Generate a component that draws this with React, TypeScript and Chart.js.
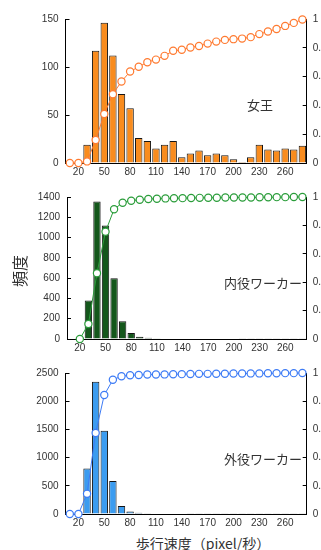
import React, { useEffect, useRef } from 'react';
import { Chart, registerables } from 'chart.js';
Chart.register(...registerables);

const categories = ['10','20','30','40','50','60','70','80','90','100','110','120','130','140','150','160','170','180','190','200','210','220','230','240','250','260','270','280'];

const queenCounts = [0,0,19,117,146,112,72,57,26,23,15,19,23,6,10,13,8,10,8,4,1,6,19,14,13,15,14,18];
const queenCdf = [0,0,0.011,0.16,0.34,0.478,0.566,0.635,0.668,0.70,0.718,0.744,0.779,0.786,0.802,0.813,0.829,0.843,0.855,0.86,0.864,0.874,0.895,0.913,0.931,0.952,0.973,0.997];

const innerCounts = [0,0,380,1355,1120,600,175,58,22,12,8,6,6,5,5,5,4,4,4,4,3,3,3,3,3,3,3,3];
const innerCdf = [null,0,0.105,0.463,0.756,0.914,0.96,0.974,0.981,0.986,0.988,0.99,0.991,0.992,0.993,0.994,0.995,0.995,0.996,0.996,0.997,0.997,0.998,0.998,0.999,0.999,1.0,1.0];

const outerCounts = [0,0,805,2345,1477,586,144,45,20,12,10,8,7,7,6,6,6,5,5,5,5,5,5,5,5,5,5,5];
const outerCdf = [0,0,0.143,0.575,0.844,0.952,0.977,0.984,0.986,0.989,0.989,0.99,0.991,0.992,0.993,0.994,0.994,0.995,0.995,0.996,0.996,0.997,0.997,0.998,0.998,0.999,0.999,1.0];

const queenTicks = { max: 150, step: 50 };
const innerTicks = { max: 1400, step: 200 };
const outerTicks = { max: 2500, step: 500 };
const cdfTicks = { max: 1, step: 0.2 };

const W = 321;
const tickFont = { family: '"Liberation Sans", Arial, sans-serif', size: 10 };
const tickColor = '#333';

type PanelProps = {
  counts: number[];
  cdf: (number | null)[];
  yMax: number;
  yStep: number;
  barColor: string;
  lineColor: string;
  top: number;
  height: number;
  padTop: number;
  xh: number;
  left: number;
  right: number;
};

function Panel(p: PanelProps) {
  const ref = useRef<HTMLCanvasElement>(null);
  useEffect(() => {
    if (!ref.current) return;
    const chart = new Chart(ref.current, {
      type: 'bar',
      data: {
        labels: categories,
        datasets: [
          {
            type: 'line',
            data: p.cdf as any,
            yAxisID: 'y1',
            borderColor: p.lineColor,
            borderWidth: 1,
            pointRadius: 3.6,
            pointBorderWidth: 1.2,
            pointBackgroundColor: '#ffffff',
            pointBorderColor: p.lineColor,
            fill: false,
            tension: 0,
            order: 0,
            clip: false as any,
          } as any,
          {
            type: 'bar',
            data: p.counts,
            yAxisID: 'y',
            backgroundColor: p.barColor,
            borderColor: '#151515',
            borderWidth: 1,
            barPercentage: 0.86,
            categoryPercentage: 1,
            order: 1,
          } as any,
        ],
      },
      options: {
        responsive: false,
        animation: false,
        devicePixelRatio: 1,
        layout: { padding: { top: p.padTop, left: 0, right: 0, bottom: 0 } },
        plugins: { legend: { display: false }, tooltip: { enabled: false } },
        scales: {
          x: {
            offset: true,
            grid: { display: false, drawTicks: false },
            border: { display: true, color: '#000', width: 1 },
            ticks: {
              autoSkip: false,
              maxRotation: 0,
              minRotation: 0,
              padding: 3,
              font: tickFont,
              color: tickColor,
              callback: (_v: any, i: number) => (i % 3 === 1 ? categories[i] : null),
            },
            afterFit: (s: any) => { s.height = p.xh; },
          },
          y: {
            position: 'left',
            min: 0,
            max: p.yMax,
            ticks: {
              stepSize: p.yStep, font: tickFont, color: tickColor, padding: 11,
              callback: (v: any) => String(Math.round(Number(v))),
            },
            grid: { drawOnChartArea: false, drawTicks: true, tickLength: -4, color: '#000', lineWidth: 1 },
            border: { display: true, color: '#000', width: 1 },
            afterFit: (s: any) => { s.width = p.left; },
          },
          y1: {
            position: 'right',
            min: 0,
            max: cdfTicks.max,
            ticks: {
              stepSize: cdfTicks.step, font: tickFont, color: tickColor, padding: 10,
              callback: (v: any) => String(Math.round(Number(v) * 10) / 10),
            },
            grid: { drawOnChartArea: false, drawTicks: true, tickLength: -4, color: '#000', lineWidth: 1 },
            border: { display: true, color: '#000', width: 1 },
            afterFit: (s: any) => { s.width = W - p.right; },
          },
        },
      } as any,
    });
    return () => chart.destroy();
  }, []);
  return (
    <canvas
      ref={ref}
      width={W}
      height={p.height}
      style={{ position: 'absolute', left: 0, top: p.top, width: W, height: p.height }}
    />
  );
}

const jp = '"Noto Sans CJK JP", "Noto Sans", sans-serif';

function Label({ text, right, cy, size = 13 }: { text: string; right: number; cy: number; size?: number }) {
  return (
    <div
      style={{
        position: 'absolute',
        right: W - right,
        top: cy - size * 0.6,
        fontFamily: jp,
        fontSize: size,
        lineHeight: `${size * 1.2}px`,
        color: '#333',
        whiteSpace: 'nowrap',
      }}
    >
      {text}
    </div>
  );
}

export default function App() {
  return (
    <div style={{ position: 'absolute', left: 0, top: 0, width: W, height: 550, background: '#fff', overflow: 'hidden' }}>
      <Panel counts={queenCounts} cdf={queenCdf} yMax={queenTicks.max} yStep={queenTicks.step}
        barColor="#f98c1e" lineColor="#ff7a30" top={0} height={180} padTop={19} xh={16.7} left={65.5} right={306.7} />
      <Panel counts={innerCounts} cdf={innerCdf} yMax={innerTicks.max} yStep={innerTicks.step}
        barColor="#14571b" lineColor="#2a9d3a" top={180} height={176} padTop={15.7} xh={17} left={67} right={306.7} />
      <Panel counts={outerCounts} cdf={outerCdf} yMax={outerTicks.max} yStep={outerTicks.step}
        barColor="#3b9cf0" lineColor="#3d7bf5" top={356} height={175} padTop={13} xh={17} left={65.5} right={306.7} />
      <Label text="女王" right={273} cy={105} />
      <Label text="内役ワーカー" right={302} cy={283} />
      <Label text="外役ワーカー" right={302} cy={459} />
      <div style={{ position: 'absolute', left: 19, top: 271, transform: 'translate(-50%, -50%) rotate(-90deg)', fontFamily: jp, fontSize: 16, color: '#333', whiteSpace: 'nowrap', lineHeight: '16px' }}>頻度</div>
      <div style={{ position: 'absolute', left: 203, top: 543, transform: 'translate(-50%, -50%)', fontFamily: jp, fontSize: 14, color: '#333', whiteSpace: 'nowrap', lineHeight: '14px' }}>歩行速度（pixel/秒）</div>
    </div>
  );
}
